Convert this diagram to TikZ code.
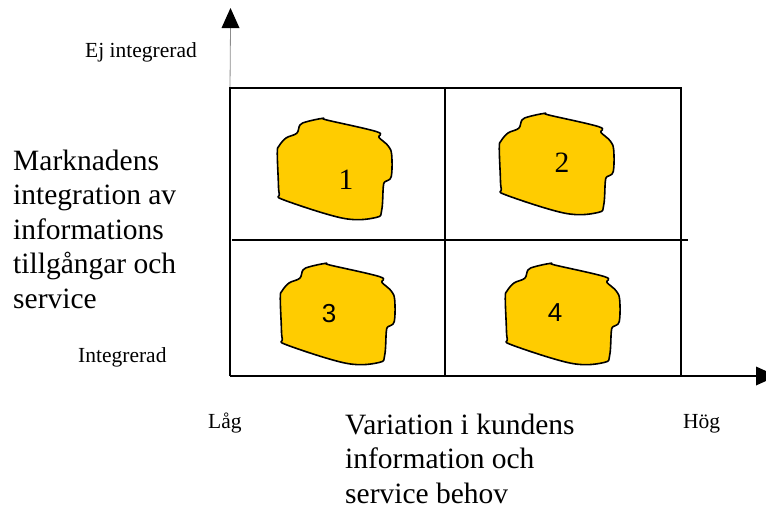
\documentclass[tikz,border=0pt]{standalone}
\usepackage{fontspec}
\setmainfont{Liberation Serif}
\newfontfamily\digitsans{Liberation Sans}
\begin{document}
\begin{tikzpicture}[x=1pt,y=-1pt,
  frame/.style={line width=1.4pt,black},
  axisline/.style={line width=1.8pt,black},
  blobline/.style={draw=black,line width=1.6pt,fill=gold,line join=round},
  bigtext/.style={font=\fontsize{29.5}{34.5}\selectfont,align=left,inner sep=0pt},
  smalltext/.style={font=\fontsize{21.5}{25}\selectfont,inner sep=0pt},
  numtext/.style={font=\fontsize{29.5}{34}\selectfont,inner sep=0pt},
  numsans/.style={font=\digitsans\fontsize{26}{30}\selectfont,inner sep=0pt},
  blob/.pic={
    \path[blobline] plot[smooth cycle,tension=0.6] coordinates{
      (-56.7,-16) (-55.8,10) (-54.7,26) (-50,32) (9.3,50.3) (42,49.5)
      (47.7,42) (49.3,18.7) (51,13.7) (57.2,8.7) (57.7,-13) (54.3,-22)
      (45,-30.5) (42.7,-36.3) (-7.3,-48) (-11,-49.7) (-27.3,-46.3)
      (-34,-43) (-37.3,-34.7) (-48,-30) (-55,-22)};
  }]
\definecolor{gold}{HTML}{FFCC00}
\useasboundingbox (0,0) rectangle (766,506);
\clip (0,0) rectangle (766,506);

% corner points of the grid
\coordinate (tl) at (230,88);
\coordinate (tr) at (681,88);
\coordinate (bl) at (230,376);
\coordinate (br) at (681,376);
\coordinate (tm) at (445,88);
\coordinate (bm) at (445,376);
\coordinate (ml) at (232,240);
\coordinate (mr) at (688,240);
\coordinate (ytop) at (230.5,27);
\coordinate (xend) at (757,376);

% vertical axis above the grid and its arrowhead
\draw[line width=0.8pt,black!45] (tl) -- (ytop);
\fill[black] (221.5,28) -- (239.5,28) -- (230.5,8) -- cycle;

% grid
\draw[frame] (bl) -- (tl) -- (tr) -- (br);
\draw[frame] (tm) -- (bm);
\draw[frame] (ml) -- (mr);

% horizontal axis and its arrowhead
\draw[axisline] (bl) -- (xend);
\fill[black] (756,366.5) -- (756,385.5) -- (777,376) -- cycle;

% quadrant blobs
\pic at (334,168) {blob};
\pic at (556,163) {blob};
\pic at (337,313) {blob};
\pic at (562,313) {blob};

\node[numtext] (n1) at (346,180) {1};
\node[numtext] (n2) at (562,163) {2};
\node[numsans] (n3) at (329,314) {3};
\node[numsans] (n4) at (555,313) {4};

% axis labels
\node[smalltext,anchor=base west] (ejint) at (85,57) {Ej integrerad};
\node[smalltext,anchor=base west] (integ) at (78,362) {Integrerad};
\node[smalltext,anchor=base west] (lag) at (208,428) {Låg};
\node[smalltext,anchor=base west] (hog) at (683,428) {Hög};

% multi-line labels: base anchor sits on the last line
\node[bigtext,anchor=base west] (ylabel) at (13,308)
  {Marknadens\\integration av\\informations\\tillgångar och\\service};
\node[bigtext,anchor=base west] (xlabel) at (345,503)
  {Variation i kundens\\information och\\service behov};
\end{tikzpicture}
\end{document}
